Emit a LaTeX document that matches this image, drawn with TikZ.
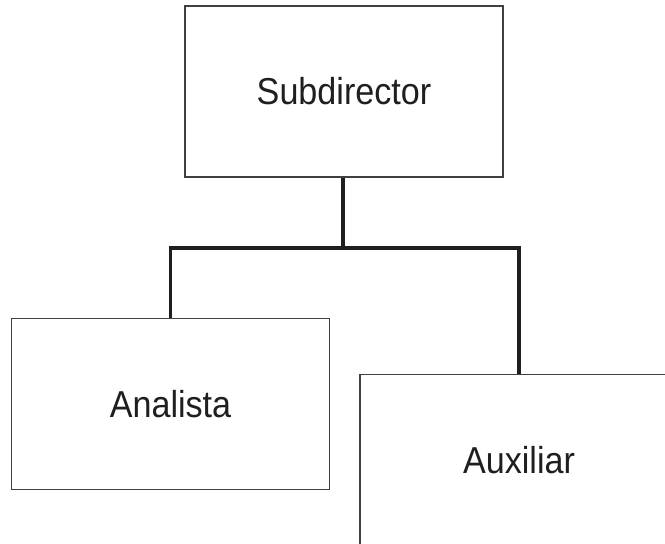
\documentclass[tikz,border=0pt]{standalone}
\usepackage{fontspec}
\setmainfont{Liberation Sans}
\begin{document}
\begin{tikzpicture}[x=1pt,y=-1pt,
  box/.style={draw=black!75,line width=1.1pt,fill=white,minimum width=318pt,minimum height=171pt,inner sep=0pt,
    font=\fontsize{37.5}{40}\selectfont,text=black!88},
  link/.style={draw=black!88,line width=3.4pt}]
\useasboundingbox (0,0) rectangle (665,544);
\clip (0,0) rectangle (665,544);
\node[box] (sub) at (344,91.5) {\scalebox{0.91}[1]{Subdirector}};
\node[box] (ana) at (170.5,404) {\scalebox{0.91}[1]{Analista}};
\node[box] (aux) at (519,460) {\scalebox{0.91}[1]{Auxiliar}};
\coordinate (j) at (343,248);
\draw[link] (sub.south) ++(-1,0) -- (j);
\draw[link] (j) -| (ana.north);
\draw[link] (j) -| (aux.north);
\end{tikzpicture}
\end{document}
